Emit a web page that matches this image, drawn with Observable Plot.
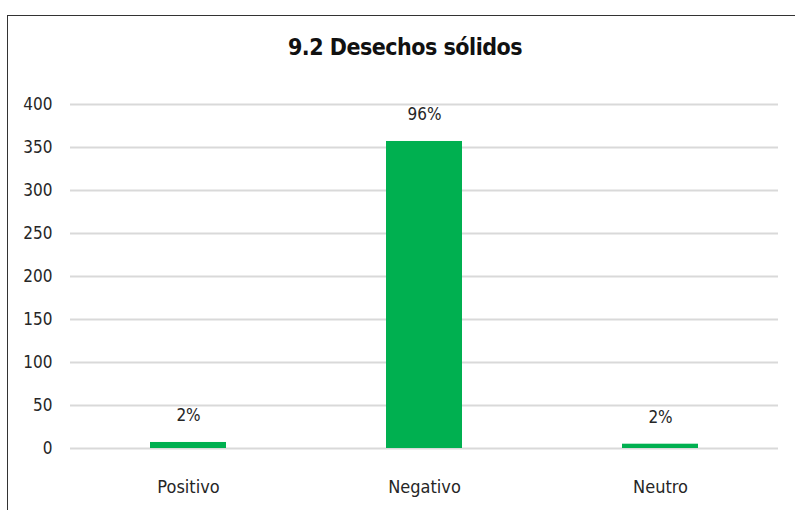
<!DOCTYPE html>
<html>
<head>
<meta charset="utf-8">
<script src="https://cdn.jsdelivr.net/npm/d3@7"></script>
<script src="https://cdn.jsdelivr.net/npm/@observablehq/plot@0.6"></script>
<style>
  body { margin: 0; background: #fff; width: 795px; height: 510px; overflow: hidden; position: relative; font-family: "DejaVu Sans Condensed", "DejaVu Sans", sans-serif; font-stretch: condensed; }
  #frame { position: absolute; left: 7px; top: 15px; width: 800px; height: 520px; border-left: 1.5px solid #333; border-top: 1.5px solid #333; }
  #title { position: absolute; left: 0; top: 34px; width: 810px; text-align: center; font-size: 23px; font-weight: bold; color: #111; letter-spacing: -0.5px; }
  #chart { position: absolute; left: 0; top: 75px; }
</style>
</head>
<body>
<div id="frame"></div>
<div id="title">9.2 Desechos sólidos</div>
<div id="chart"></div>
<script>
const categories = ["Positivo", "Negativo", "Neutro"];
const values = [7, 357, 5];
const labels = ["2%", "96%", "2%"];
const yTicks = [0, 50, 100, 150, 200, 250, 300, 350, 400];

const data = categories.map((c, i) => ({category: c, value: values[i], label: labels[i]}));

const fontFam = '"DejaVu Sans Condensed", "DejaVu Sans", sans-serif';
const plot = Plot.plot({
  width: 795,
  height: 435,
  marginLeft: 70,
  marginRight: 17,
  marginTop: 29,
  marginBottom: 62,
  style: {fontFamily: fontFam, fontStretch: "condensed", fontSize: "17px", color: "#262626", background: "transparent"},
  x: {domain: categories, paddingInner: 0.68, paddingOuter: 0.34, label: null},
  y: {domain: [0, 400], label: null},
  marks: [
    Plot.ruleY(yTicks, {stroke: "#d9d9d9", strokeWidth: 2}),
    Plot.barY(data, {x: "category", y: "value", fill: "#00b050"}),
    Plot.text(data, {x: "category", y: "value", text: "label", dy: -27, fontSize: 17, fill: "#262626"}),
    Plot.axisX({tickSize: 0, tickPadding: 32, fontSize: 18}),
    Plot.axisY({ticks: yTicks, tickSize: 0, tickPadding: 18, fontSize: 17})
  ]
});
document.getElementById("chart").appendChild(plot);
</script>
</body>
</html>
